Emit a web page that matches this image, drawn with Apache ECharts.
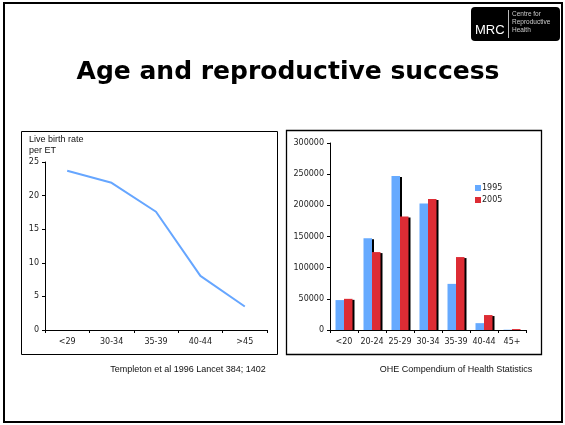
<!DOCTYPE html>
<html>
<head>
<meta charset="utf-8">
<script src="https://cdn.jsdelivr.net/npm/echarts@6/dist/echarts.min.js"></script>
<style>
html,body{margin:0;padding:0;background:#fff;}
#c{width:565px;height:425px;}
</style>
</head>
<body>
<div id="c"></div>
<script>
// Left chart data
var ageGroupsIVF = ['<29', '30-34', '35-39', '40-44', '>45'];
var liveBirthRate = [23.7, 21.9, 17.6, 8.05, 3.5];
// Right chart data
var ageGroupsBirths = ['<20', '20-24', '25-29', '30-34', '35-39', '40-44', '45+'];
var births1995 = [48000, 147000, 247000, 203000, 74000, 11000, 500];
var births2005 = [50000, 125000, 182000, 210000, 117000, 24000, 1500];
var seriesNames = ['1995', '2005'];

var chart = echarts.init(document.getElementById('c'), null, {renderer: 'canvas'});
var axisFont = 'DejaVu Sans';

function axisX(grid, data) {
  return {
    type: 'category', gridIndex: grid, data: data, boundaryGap: true,
    axisLine: {show: true, lineStyle: {color: '#000', width: 1}},
    axisTick: {show: true, inside: false, length: 3, lineStyle: {color: '#000'}},
    axisLabel: {fontFamily: axisFont, fontSize: 8, color: '#222', margin: 8, interval: 0},
    splitLine: {show: false}
  };
}
function axisY(grid, max, interval) {
  return {
    type: 'value', gridIndex: grid, min: 0, max: max, interval: interval,
    axisLine: {show: true, lineStyle: {color: '#000', width: 1}},
    axisTick: {show: true, inside: false, length: 3, lineStyle: {color: '#000'}},
    axisLabel: {fontFamily: axisFont, fontSize: 8, color: '#222', margin: 6,
      formatter: function (v) { return String(v); }},
    splitLine: {show: false}
  };
}

var option = {
  animation: false,
  backgroundColor: '#fff',
  grid: [
    {left: 45, top: 162, width: 222, height: 168},
    {left: 330, top: 143, width: 196, height: 187}
  ],
  xAxis: [axisX(0, ageGroupsIVF), axisX(1, ageGroupsBirths)],
  yAxis: [axisY(0, 25, 5), axisY(1, 300000, 50000)],
  legend: {
    orient: 'vertical', left: 470, top: 179,
    itemWidth: 6, itemHeight: 6, itemGap: 4,
    icon: 'rect',
    data: seriesNames,
    textStyle: {fontFamily: axisFont, fontSize: 8, color: '#222', padding: [0, 0, 0, -4]}
  },
  series: [
    {
      type: 'line', xAxisIndex: 0, yAxisIndex: 0, data: liveBirthRate,
      symbol: 'none', lineStyle: {color: '#66a6ff', width: 2}, z: 3
    },
    {
      name: seriesNames[0], type: 'bar', xAxisIndex: 1, yAxisIndex: 1, data: births1995,
      barWidth: 8.5, barGap: '0%',
      itemStyle: {color: '#66aaff', shadowColor: '#000', shadowOffsetX: 2, shadowOffsetY: 1, shadowBlur: 0}
    },
    {
      name: seriesNames[1], type: 'bar', xAxisIndex: 1, yAxisIndex: 1, data: births2005,
      barWidth: 8.5, barGap: '0%',
      itemStyle: {color: '#dd2c34', shadowColor: '#000', shadowOffsetX: 2, shadowOffsetY: 1, shadowBlur: 0}
    }
  ],
  graphic: [
    {type: 'rect', shape: {x: 4, y: 3, width: 558, height: 419}, style: {fill: 'none', stroke: '#000', lineWidth: 2}, z: 0},
    {type: 'rect', shape: {x: 21.5, y: 131.5, width: 256, height: 223}, style: {fill: 'none', stroke: '#000', lineWidth: 1}, z: 0},
    {type: 'rect', shape: {x: 286.5, y: 130.5, width: 255, height: 224}, style: {fill: 'none', stroke: '#000', lineWidth: 1.3}, z: 0},
    {type: 'text', x: 288, y: 72, style: {text: 'Age and reproductive success', font: 'bold 25px "DejaVu Sans"', fill: '#000', textAlign: 'center', textVerticalAlign: 'middle'}},
    {type: 'text', x: 29, y: 140, style: {text: 'Live birth rate', font: '9px "Liberation Sans"', fill: '#111', textAlign: 'left', textVerticalAlign: 'middle'}},
    {type: 'text', x: 29, y: 151, style: {text: 'per ET', font: '9px "Liberation Sans"', fill: '#111', textAlign: 'left', textVerticalAlign: 'middle'}},
    {type: 'text', x: 188, y: 370, style: {text: 'Templeton et al 1996 Lancet 384; 1402', font: '9px "Liberation Sans"', fill: '#111', textAlign: 'center', textVerticalAlign: 'middle'}},
    {type: 'text', x: 456, y: 370, style: {text: 'OHE Compendium of Health Statistics', font: '9px "Liberation Sans"', fill: '#111', textAlign: 'center', textVerticalAlign: 'middle'}},
    {type: 'rect', shape: {x: 471, y: 7, width: 89, height: 34, r: 4}, style: {fill: '#000'}},
    {type: 'text', x: 475, y: 30, style: {text: 'MRC', font: '13px "Liberation Sans"', fill: '#fff', textAlign: 'left', textVerticalAlign: 'middle'}},
    {type: 'line', shape: {x1: 508.5, y1: 10, x2: 508.5, y2: 38}, style: {stroke: '#bbb', lineWidth: 1}},
    {type: 'text', x: 512, y: 14, style: {text: 'Centre for', font: '6.5px "Liberation Sans"', fill: '#ccc', textAlign: 'left', textVerticalAlign: 'middle'}},
    {type: 'text', x: 512, y: 22, style: {text: 'Reproductive', font: '6.5px "Liberation Sans"', fill: '#ccc', textAlign: 'left', textVerticalAlign: 'middle'}},
    {type: 'text', x: 512, y: 30, style: {text: 'Health', font: '6.5px "Liberation Sans"', fill: '#ccc', textAlign: 'left', textVerticalAlign: 'middle'}}
  ]
};
chart.setOption(option);
</script>
</body>
</html>
